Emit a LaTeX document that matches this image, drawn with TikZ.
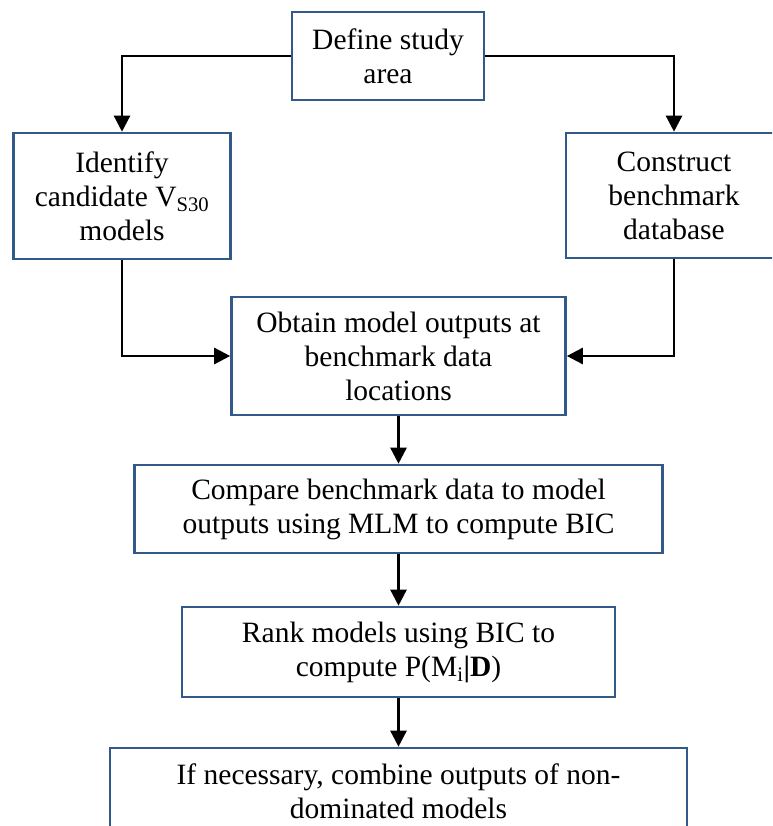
\documentclass[tikz,border=0pt]{standalone}
\usepackage{fontspec}
\setmainfont{Liberation Serif}
\usetikzlibrary{arrows.meta}
\definecolor{boxblue}{RGB}{49,89,138}
\tikzset{
  stepbox/.style={draw=boxblue, line width=2.6pt, fill=white, inner sep=0pt,
    align=center, font=\fontsize{29.5}{34}\selectfont},
  conn/.style={draw=black, line width=2.5pt,
    -{Triangle[length=16pt,width=16pt]}},
}
\begin{document}
\begin{tikzpicture}[x=1pt,y=-1pt]
\clip (0,0) rectangle (772,826);
\fill[white] (0,0) rectangle (772,826);

\node[stepbox, minimum width=192pt, minimum height=88pt] (def) at (388,56) {Define study\\area};
\node[stepbox, minimum width=217pt, minimum height=126pt] (ide) at (122,196) {Identify\\candidate V\textsubscript{S30}\\models};
\node[stepbox, minimum width=216pt, minimum height=125pt] (con) at (674,195.5) {Construct\\benchmark\\database};
\node[stepbox, minimum width=334pt, minimum height=118pt] (obt) at (398.5,356) {Obtain model outputs at\\benchmark data\\locations};
\node[stepbox, minimum width=528pt, minimum height=88pt] (cmp) at (398.5,509) {Compare benchmark data to model\\outputs using MLM to compute BIC};
\node[stepbox, minimum width=433pt, minimum height=90pt] (rnk) at (398.5,652) {Rank models using BIC to\\compute P(M\textsubscript{i}\textbf{|D})};
\node[stepbox, minimum width=577pt, minimum height=86pt] (cmb) at (398.5,791) {If necessary, combine outputs of non-\\dominated models};

\draw[conn] (def.west) -| (ide.north);
\draw[conn] (def.east) -| (con.north);
\draw[conn] (ide.south) |- (obt.west);
\draw[conn] (con.south) |- (obt.east);
\draw[conn] (obt.south) -- (cmp.north);
\draw[conn] (cmp.south) -- (rnk.north);
\draw[conn] (rnk.south) -- (cmb.north);
\end{tikzpicture}
\end{document}
